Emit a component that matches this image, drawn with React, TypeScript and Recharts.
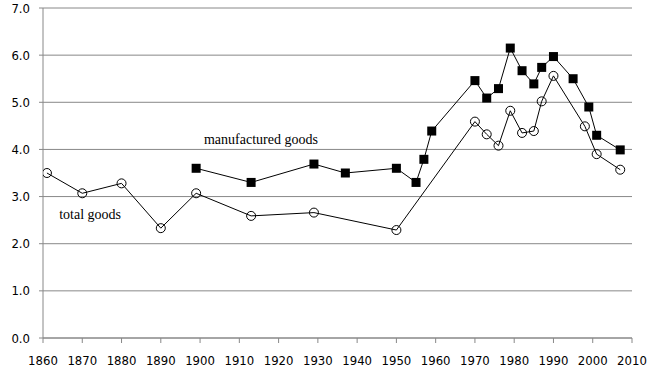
import { CartesianGrid, Line, LineChart, ReferenceDot, XAxis, YAxis } from 'recharts';

const totalYears = [1861, 1870, 1880, 1890, 1899, 1913, 1929, 1950, 1970, 1973, 1976, 1979, 1982, 1985, 1987, 1990, 1998, 2001, 2007];
const totalValues = [3.5, 3.07, 3.28, 2.33, 3.07, 2.59, 2.66, 2.29, 4.59, 4.32, 4.08, 4.82, 4.35, 4.39, 5.02, 5.56, 4.49, 3.9, 3.57];

const manufYears = [1899, 1913, 1929, 1937, 1950, 1955, 1957, 1959, 1970, 1973, 1976, 1979, 1982, 1985, 1987, 1990, 1995, 1999, 2001, 2007];
const manufValues = [3.6, 3.3, 3.69, 3.5, 3.6, 3.3, 3.79, 4.39, 5.46, 5.09, 5.29, 6.15, 5.67, 5.39, 5.74, 5.97, 5.5, 4.9, 4.3, 3.99];

const xTicks = [1860, 1870, 1880, 1890, 1900, 1910, 1920, 1930, 1940, 1950, 1960, 1970, 1980, 1990, 2000, 2010];
const yTicks = [0, 1, 2, 3, 4, 5, 6, 7];

const totalData = totalYears.map((year, i) => ({ year, value: totalValues[i] }));
const manufData = manufYears.map((year, i) => ({ year, value: manufValues[i] }));

const tickFont = { fontFamily: "'Liberation Sans Narrow', 'DejaVu Sans Condensed', sans-serif", fontSize: 13, fill: '#000' };
const labelFont = { fontFamily: "'Liberation Serif', serif", fontSize: 14, fill: '#000' };

const Square = (props: any) => {
    const { cx, cy } = props;
    if (cx == null || cy == null) return null;
    return <rect x={cx - 4.5} y={cy - 4.5} width={9} height={9} fill="#000" />;
};

export default function App() {
    return (
        <div style={{ position: 'absolute', left: 0, top: 0, background: '#fff' }}>
            <LineChart width={660} height={382} margin={{ top: 8, right: 28, left: 0, bottom: 10 }}>
                <CartesianGrid vertical={false} stroke="#888" />
                <XAxis
                    type="number"
                    dataKey="year"
                    domain={[1860, 2010]}
                    ticks={xTicks}
                    allowDataOverflow
                    height={34}
                    stroke="#888"
                    tickSize={5}
                    tickMargin={13}
                    tick={tickFont}
                />
                <YAxis
                    type="number"
                    domain={[0, 7]}
                    ticks={yTicks}
                    width={43}
                    stroke="#888"
                    tickSize={4}
                    tickMargin={9}
                    tick={tickFont}
                    tickFormatter={(v: number) => v.toFixed(1)}
                />
                <Line
                    data={totalData}
                    dataKey="value"
                    stroke="#000"
                    strokeWidth={1}
                    dot={{ r: 4.5, fill: 'none', stroke: '#000', strokeWidth: 1 }}
                    isAnimationActive={false}
                />
                <Line
                    data={manufData}
                    dataKey="value"
                    stroke="#000"
                    strokeWidth={1}
                    dot={<Square />}
                    isAnimationActive={false}
                />
                <ReferenceDot x={1915.5} y={4.22} r={0} label={{ value: 'manufactured goods', position: 'center', ...labelFont }} />
                <ReferenceDot x={1872} y={2.63} r={0} label={{ value: 'total goods', position: 'center', ...labelFont }} />
            </LineChart>
        </div>
    );
}
